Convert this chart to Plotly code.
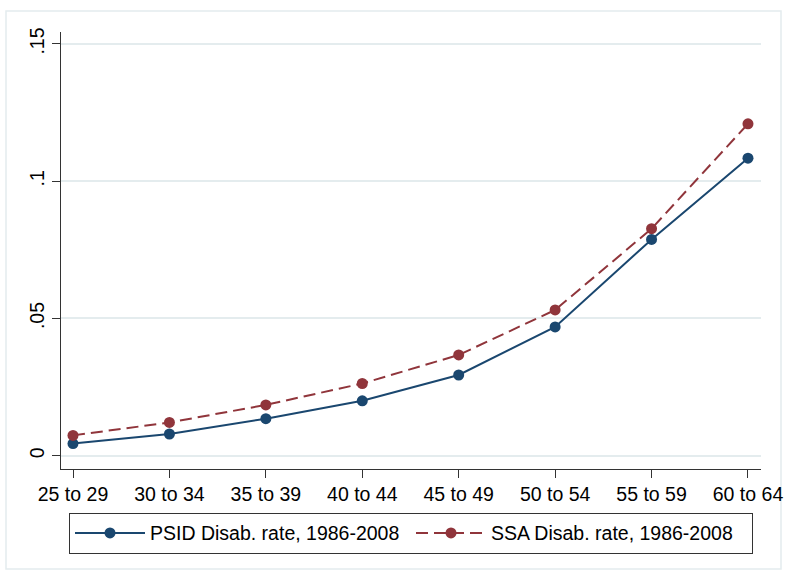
import plotly.graph_objects as go

categories = ["25 to 29", "30 to 34", "35 to 39", "40 to 44", "45 to 49", "50 to 54", "55 to 59", "60 to 64"]
psid = [0.0044, 0.0079, 0.0135, 0.0200, 0.0294, 0.0469, 0.0788, 0.1084]
ssa = [0.0074, 0.0121, 0.0185, 0.0263, 0.0367, 0.0531, 0.0827, 0.1209]
ytick_vals = [0, 0.05, 0.1, 0.15]
ytick_text = ["0", ".05", ".1", ".15"]

xpos = list(range(len(categories)))
FONT = "Liberation Sans, Arial, sans-serif"
NAVY = "#1a476f"
MAROON = "#90353b"
GRID = "#e4ecee"
FS = 19.5

fig = go.Figure()
fig.add_trace(go.Scatter(
    x=xpos, y=psid, mode="lines+markers", name="PSID Disab. rate, 1986-2008",
    line=dict(color=NAVY, width=2), marker=dict(color=NAVY, size=11)))
fig.add_trace(go.Scatter(
    x=xpos, y=ssa, mode="lines+markers", name="SSA Disab. rate, 1986-2008",
    line=dict(color=MAROON, width=2, dash="12px,6px"), marker=dict(color=MAROON, size=11)))

fig.update_layout(
    width=785, height=572,
    margin=dict(l=61, r=24, t=32, b=103, autoexpand=False),
    paper_bgcolor="white", plot_bgcolor="white",
    font=dict(family=FONT, size=FS, color="black"),
    showlegend=True,
    legend=dict(orientation="h", x=0.5, xanchor="center", y=-0.1, yanchor="top",
                bordercolor="#333333", borderwidth=1, font=dict(size=FS),
                itemwidth=70, entrywidth=256, entrywidthmode="pixels"),
    xaxis=dict(range=[-0.1244, 7.135], tickmode="array", tickvals=xpos, ticktext=categories,
               automargin=False,
               showgrid=False, zeroline=False, showline=True, linecolor="#333333", linewidth=1,
               ticks="outside", ticklen=8, tickcolor="#333333", tickfont=dict(size=FS)),
    yaxis=dict(range=[-0.00485, 0.15437], tickmode="array", tickvals=ytick_vals, ticktext=ytick_text,
               automargin=False,
               showgrid=True, gridcolor=GRID, gridwidth=2, zeroline=False,
               showline=True, linecolor="#333333", linewidth=1,
               ticks="outside", ticklen=8, tickcolor="#333333", tickangle=-90,
               tickfont=dict(size=FS)),
)

fig.add_shape(type="rect", xref="paper", yref="paper",
              x0=(6 - 61) / 700, x1=(781 - 61) / 700, y0=(469 - 569) / 437, y1=(469 - 11) / 437,
              line=dict(color="#e4ecee", width=1.5), fillcolor="rgba(0,0,0,0)", layer="below")

fig.write_html("out.html")
